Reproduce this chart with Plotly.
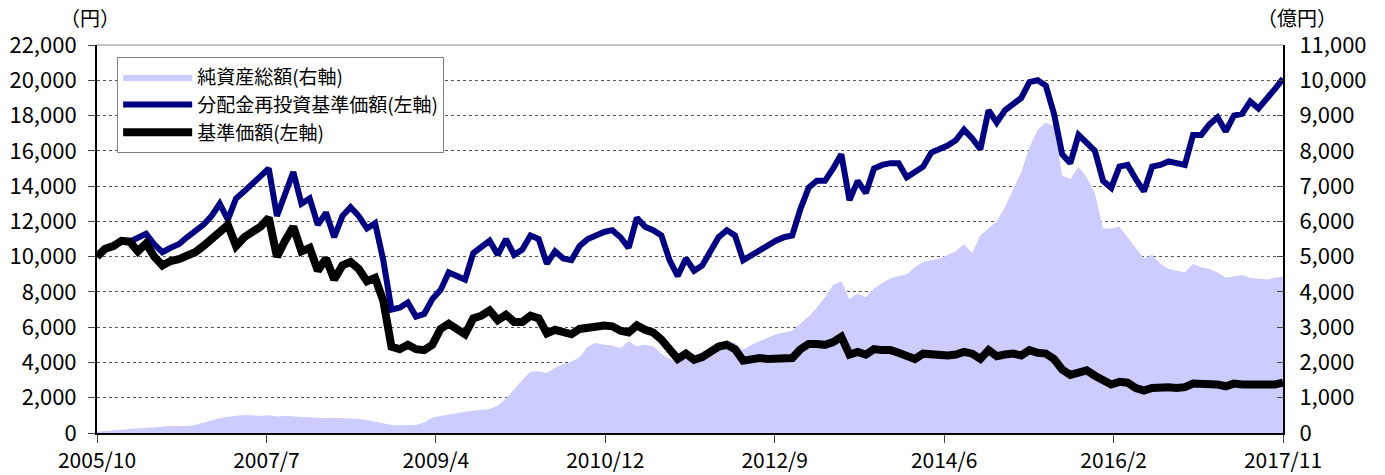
import plotly.graph_objects as go
import pandas as pd

# Monthly observation points, 2005/10 .. 2017/11
months = pd.date_range("2005-10-01", periods=146, freq="MS").strftime("%Y/%m").tolist()
x_idx = list(range(len(months)))

tick_labels = ["2005/10", "2007/7", "2009/4", "2010/12", "2012/9", "2014/6", "2016/2", "2017/11"]

# 基準価額 (円, left axis)
nav = [
    10000, 10450, 10600, 10900, 10850, 10300, 10750, 10000, 9500, 9750,
    9850, 10050, 10250, 10600, 11000, 11500, 11800, 10600, 11100, 11400,
    11700, 12200, 10000, 10900, 11700, 10300, 10500, 9200, 9900, 8700,
    9500, 9700, 9300, 8600, 8800, 7500, 4900, 4750, 5000, 4750,
    4700, 5000, 5900, 6200, 5900, 5600, 6500, 6650, 6950, 6400,
    6700, 6300, 6300, 6650, 6500, 5650, 5850, 5700, 5600, 5900,
    6000, 6100, 6100, 6050, 5800, 5700, 6100, 5850, 5700, 5300,
    4750, 4200, 4500, 4150, 4300, 4600, 4900, 5000, 4750, 4100,
    4200, 4250, 4200, 4200, 4200, 4250, 4750, 5050, 5050, 5000,
    5150, 5450, 4450, 4600, 4450, 4750, 4700, 4700, 4550, 4350,
    4200, 4500, 4450, 4450, 4400, 4450, 4600, 4500, 4200, 4700,
    4350, 4450, 4500, 4400, 4700, 4550, 4500, 4200, 3600, 3300,
    3400, 3550, 3250, 2950, 2750, 2900, 2850, 2550, 2400, 2550,
    2600, 2600, 2550, 2600, 2800, 2800, 2800, 2750, 2650, 2800,
    2750, 2750, 2700, 2750, 2750, 2850,
]

# 分配金再投資基準価額 (円, left axis)
reinvested = [
    10000, 10450, 10600, 10900, 10850, 11050, 11300, 10700, 10250, 10500,
    10700, 11100, 11400, 11800, 12300, 13000, 12100, 13300, 13700, 14100,
    14500, 15000, 12300, 13500, 14800, 13000, 13300, 11800, 12500, 11100,
    12300, 12800, 12300, 11600, 11900, 9800, 7000, 7100, 7400, 6600,
    6750, 7600, 8100, 9100, 8900, 8700, 10200, 10500, 10900, 10100,
    11000, 10100, 10400, 11200, 11000, 9600, 10300, 9900, 9800, 10600,
    11000, 11200, 11400, 11500, 11100, 10500, 12200, 11700, 11500, 11200,
    9800, 8900, 9900, 9200, 9500, 10300, 11100, 11500, 11200, 9800,
    10100, 10400, 10600, 10900, 11100, 11200, 12700, 13900, 14300, 14300,
    15000, 15800, 13200, 14300, 13600, 15000, 15200, 15300, 15300, 14500,
    14800, 15100, 15900, 16100, 16300, 16600, 17200, 16700, 16100, 18300,
    17600, 18300, 18600, 19000, 19900, 20000, 19700, 18100, 15800, 15300,
    16900, 16400, 16000, 14300, 13900, 15100, 15200, 14400, 13700, 15100,
    15200, 15400, 15300, 15200, 16900, 16900, 17500, 17900, 17100, 18000,
    18100, 18800, 18400, 18900, 19500, 20100,
]

# 純資産総額 (億円, right axis)
net_assets = [
    40, 60, 80, 100, 110, 125, 140, 170, 190, 200,
    200, 200, 230, 300, 370, 420, 460, 490, 510, 500,
    480, 500, 470, 480, 470, 460, 440, 420, 420, 430,
    420, 420, 400, 370, 320, 260, 230, 220, 230, 230,
    300, 430, 480, 530, 560, 600, 640, 660, 680, 780,
    980, 1250, 1500, 1740, 1750, 1700, 1850, 1950, 2020, 2150,
    2450, 2550, 2500, 2480, 2400, 2600, 2450, 2500, 2450, 2250,
    2100, 2050, 2100, 2200, 2300, 2400, 2450, 2600, 2550, 2350,
    2500, 2600, 2700, 2800, 2850, 2900, 3100, 3300, 3550, 3850,
    4200, 4300, 3800, 3950, 3850, 4100, 4250, 4380, 4450, 4500,
    4700, 4850, 4900, 4950, 5050, 5150, 5350, 5100, 5600, 5800,
    6000, 6400, 6900, 7400, 8100, 8600, 8800, 8700, 7300, 7200,
    7550, 7250, 6800, 5800, 5800, 5850, 5550, 5250, 4950, 5050,
    4800, 4650, 4600, 4550, 4800, 4700, 4650, 4550, 4400, 4450,
    4480, 4400, 4380, 4350, 4400, 4430,
]

n_int = len(tick_labels) - 1
tick_pos = [i * (len(months) - 1) / n_int for i in range(len(tick_labels))]

FONT = "Noto Sans CJK JP, sans-serif"

fig = go.Figure()
fig.add_trace(go.Scatter(
    x=x_idx, y=net_assets, name="純資産総額(右軸)", mode="lines",
    line=dict(width=0, color="#CCCCFF"), fill="tozeroy", fillcolor="#CCCCFF",
    yaxis="y", customdata=months, hovertemplate="%{customdata}: %{y:,}億円<extra></extra>",
))
fig.add_trace(go.Scatter(
    x=x_idx, y=reinvested, name="分配金再投資基準価額(左軸)", mode="lines",
    line=dict(width=6, color="#000080"), yaxis="y2",
    customdata=months, hovertemplate="%{customdata}: %{y:,}円<extra></extra>",
))
fig.add_trace(go.Scatter(
    x=x_idx, y=nav, name="基準価額(左軸)", mode="lines",
    line=dict(width=8, color="#000000"), yaxis="y2",
    customdata=months, hovertemplate="%{customdata}: %{y:,}円<extra></extra>",
))

fig.update_layout(
    template="none",
    width=1385, height=475,
    margin=dict(l=97, r=102, t=45, b=42, autoexpand=False),
    paper_bgcolor="white", plot_bgcolor="white",
    font=dict(family=FONT, size=22, color="black"),
    showlegend=True,
    legend=dict(
        x=0.017, y=0.969, xanchor="left", yanchor="top",
        bgcolor="white", bordercolor="#808080", borderwidth=1,
        font=dict(family=FONT, size=19, color="black"),
        itemwidth=69, tracegroupgap=0, entrywidth=288, entrywidthmode="pixels",
    ),
    xaxis=dict(
        range=[0, len(months) - 1], tickmode="array", tickvals=tick_pos, ticktext=tick_labels,
        ticks="outside", ticklen=8, tickcolor="#444", showline=True, linecolor="black", linewidth=2,
        showgrid=False, zeroline=False, tickfont=dict(size=21), automargin=False,
        ticklabelstandoff=0,
    ),
    yaxis=dict(
        side="right", range=[0, 11000], dtick=1000, tickformat=",d",
        ticks="inside", ticklen=6, tickcolor="#444", showline=True, linecolor="black", linewidth=2,
        showgrid=False, zeroline=False, tickfont=dict(size=22), ticklabelstandoff=10,
        automargin=False,
    ),
    yaxis2=dict(
        overlaying="y", side="left", range=[0, 22000], dtick=2000, tickformat=",d",
        ticks="outside", ticklen=7, tickcolor="#444", showline=True, linecolor="black", linewidth=2,
        showgrid=True, gridcolor="#555", gridwidth=1, griddash="dot", zeroline=False,
        tickfont=dict(size=22), ticklabelstandoff=7, automargin=False,
    ),
    shapes=[dict(type="line", xref="paper", yref="paper", x0=0, x1=1, y0=1, y1=1,
                 line=dict(color="#888", width=1), layer="above")],
    annotations=[
        dict(text="（円）", xref="paper", yref="paper", x=-0.006, y=1.07,
             xanchor="center", yanchor="middle", showarrow=False, font=dict(size=20)),
        dict(text="（億円）", xref="paper", yref="paper", x=1.012, y=1.07,
             xanchor="center", yanchor="middle", showarrow=False, font=dict(size=20)),
    ],
)

fig.write_html(
    "out.html",
    config={"displayModeBar": False},
    post_script="document.body.style.margin='0';document.body.style.overflow='hidden';",
)
